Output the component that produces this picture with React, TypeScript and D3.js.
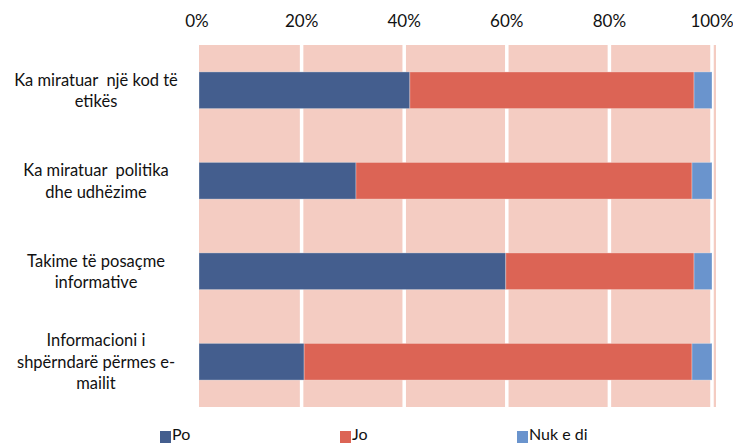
import React from "react";
import * as d3 from "d3";

const categories: string[][] = [
  ["Ka miratuar  një kod të", "etikës"],
  ["Ka miratuar  politika", "dhe udhëzime"],
  ["Takime të posaçme", "informative"],
  ["Informacioni i", "shpërndarë përmes e-", "mailit"],
];
const seriesNames = ["Po", "Jo", "Nuk e di"];
const po = [41.1, 30.6, 59.8, 20.5];
const jo = [55.4, 65.5, 36.7, 75.6];
const nuk = [3.5, 3.9, 3.5, 3.9];
const tickValues = [0, 20, 40, 60, 80, 100];
const colors = ["#445E8E", "#DC6455", "#6A94CD"];

const W = 733;
const H = 443;
const FONT = "Lato, 'Open Sans', sans-serif";

export default function App() {
  const x = d3.scaleLinear().domain([0, 100]).range([199, 712]);
  const y = d3
    .scaleBand<number>()
    .domain(categories.map((_, i) => i))
    .range([45, 407])
    .paddingInner(0.595)
    .paddingOuter(0.2975);

  const rows = categories.map((_, i) => ({ i, vals: [po[i], jo[i], nuk[i]] }));
  const stack = d3
    .stack<{ i: number; vals: number[] }, number>()
    .keys([0, 1, 2])
    .value((d, k) => d.vals[k]);
  const stacked = stack(rows);

  const legendX = [160, 340, 517];

  return (
    <svg
      width={W}
      height={H}
      style={{ position: "absolute", left: 0, top: 0, background: "#fff" }}
      fontFamily={FONT}
    >
      <rect x={199} y={45} width={716 - 199} height={407 - 45} fill="#F4CCC2" />
      {tickValues
        .filter((t) => t > 0)
        .map((t) => (
          <line
            key={t}
            x1={x(t)}
            x2={x(t)}
            y1={45}
            y2={407}
            stroke="#fff"
            strokeWidth={3.5}
          />
        ))}
      {tickValues.map((t) => (
        <text
          key={t}
          x={x(t) - (t === 0 ? 2 : 0)}
          y={26.5}
          textAnchor="middle"
          fontSize={17}
          fill="#111"
        >
          {t}%
        </text>
      ))}
      {stacked.map((layer, k) =>
        layer.map((d, i) => (
          <rect
            key={`${k}-${i}`}
            x={x(d[0])}
            y={y(i)}
            width={x(d[1]) - x(d[0])}
            height={y.bandwidth()}
            fill={colors[k]}
            stroke="rgba(255,255,255,0.3)"
            strokeWidth={1}
          />
        ))
      )}
      {categories.map((lines, i) => {
        const c = (y(i) as number) + y.bandwidth() / 2;
        const lh = 21.5;
        const start = c - ((lines.length - 1) * lh) / 2;
        return (
          <text key={i} textAnchor="middle" fontSize={16.5} fill="#111">
            {lines.map((ln, j) => (
              <tspan key={j} x={96} y={start + j * lh + 6} style={{ whiteSpace: "pre" }}>
                {ln}
              </tspan>
            ))}
          </text>
        );
      })}
      {seriesNames.map((s, k) => (
        <g key={s}>
          <rect x={legendX[k]} y={431} width={11} height={12} fill={colors[k]} />
          <text x={legendX[k] + 12} y={439.5} fontSize={16} fill="#111">
            {s}
          </text>
        </g>
      ))}
    </svg>
  );
}
